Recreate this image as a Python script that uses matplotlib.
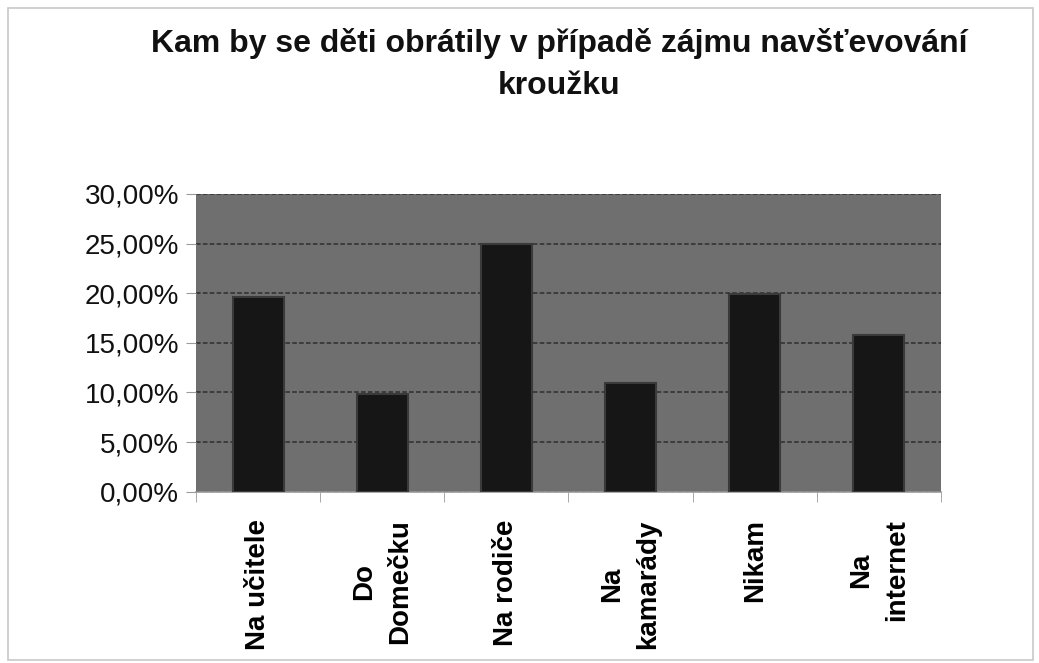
import matplotlib as mpl
mpl.use('Agg')
import matplotlib.pyplot as plt
from matplotlib.patches import Rectangle
from matplotlib.ticker import FuncFormatter, MultipleLocator
import numpy as np

# data (percent)
categories  = ["Na učitele", "Do\nDomečku", "Na rodiče", "Na\nkamarády", "Nikam", "Na\ninternet"]
values      = [19.6, 9.8, 25.0, 11.0, 19.9, 15.8]
title       = "Kam by se děti obrátily v případě zájmu navšťevování\nkroužku"

plt.rcParams['font.family'] = ['Liberation Sans', 'DejaVu Sans']

fig = plt.figure(figsize=(10.39, 6.63), dpi=100)
ax  = fig.add_axes([0.1886, 0.2584, 0.7171, 0.449])

# thin grey frame round the whole chart
fig.patches.append(Rectangle((0.008, 0.005), 0.986, 0.983, transform=fig.transFigure,
                             fill=False, edgecolor='#c8c8c8', linewidth=1.2))

x = np.arange(len(categories))
ax.set_facecolor('#6f6f6f')
ax.bar(x, values, width=0.41, color='#161616', edgecolor='#3a3a3a', linewidth=1.5, zorder=3)

ax.set_xlim(-0.5, len(categories) - 0.5)
ax.set_ylim(0, 30)
ax.yaxis.set_major_locator(MultipleLocator(5))
ax.yaxis.set_major_formatter(FuncFormatter(lambda v, _: f"{v:.2f}".replace('.', ',') + "%"))
ax.grid(axis='y', color='#2e2e2e', linestyle=(0, (3, 1.5)), linewidth=1.1, zorder=1)

for side in ('top', 'right', 'left'):
    ax.spines[side].set_visible(False)
ax.spines['bottom'].set_color('#9a9a9a')
ax.spines['bottom'].set_linewidth(1.2)

ax.tick_params(axis='y', length=7, color='#9a9a9a', labelsize=20, pad=5, labelcolor='#111111')
ax.set_xticks(x)
ax.set_xticklabels(categories, rotation=90, fontweight='bold', fontsize=20,
                   va='top', ha='center', multialignment='center', linespacing=1.5)
ax.tick_params(axis='x', length=0, pad=20)
# category separator ticks below axis
ax.set_xticks(np.arange(-0.5, len(categories), 1), minor=True)
ax.tick_params(axis='x', which='minor', length=7, color='#9a9a9a', direction='out')

fig.text(0.538, 0.958, title, ha='center', va='top', fontsize=23, fontweight='bold',
         linespacing=1.55, color='#111111')

plt.savefig('out.png', dpi=100)
